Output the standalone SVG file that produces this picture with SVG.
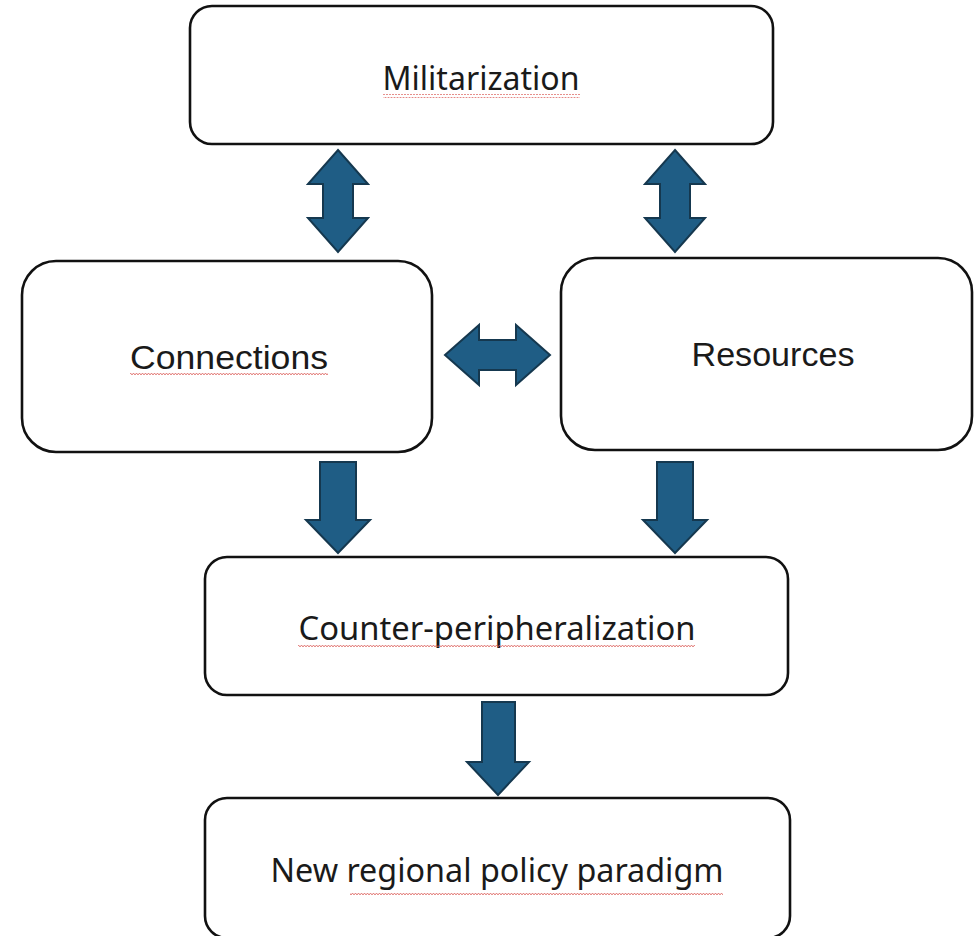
<svg xmlns="http://www.w3.org/2000/svg" width="974" height="936" viewBox="0 0 974 936">
<style>
.box{fill:#fff;stroke:#111;stroke-width:2.6}
.arr{fill:#1f5d85;stroke:#15384f;stroke-width:2;stroke-linejoin:miter}
.t{font-family:"Noto Sans","Liberation Sans",sans-serif;font-size:33px;fill:#1a1a1a;text-anchor:middle}
.h{font-family:"Liberation Sans",Arial,sans-serif;font-size:34px;fill:#1a1a1a;text-anchor:middle}
.sq{fill:url(#wave)}
</style>
<defs>
<pattern id="wave" width="6" height="4" patternUnits="userSpaceOnUse">
<path d="M0 3 L1.5 1 L3 3 L4.5 1 L6 3" fill="none" stroke="#d9534f" stroke-width="0.9" opacity="0.8"/>
</pattern>
</defs>
<rect width="974" height="936" fill="#fff"/>
<g id="connectors">
<path class="arr" d="M338 150 L368 184 L353 184 L353 218 L368 218 L338 252 L308 218 L323 218 L323 184 L308 184 Z"/>
<path class="arr" d="M675 150 L705 184 L690 184 L690 218 L705 218 L675 252 L645 218 L660 218 L660 184 L645 184 Z"/>
<path class="arr" d="M445 355 L479 325 L479 340 L516 340 L516 325 L550 355 L516 385 L516 370 L479 370 L479 385 Z"/>
<path class="arr" d="M320 462 L356 462 L356 520 L370 520 L338 553 L306 520 L320 520 Z"/>
<path class="arr" d="M657 462 L693 462 L693 520 L707 520 L675 553 L643 520 L657 520 Z"/>
<path class="arr" d="M482 702 L515 702 L515 762 L529 762 L498 795 L467 762 L482 762 Z"/>
</g>
<g id="militarization">
<rect class="box" x="190" y="6" width="583" height="138" rx="22"/>
<text class="t" x="481" y="90" textLength="197" lengthAdjust="spacingAndGlyphs">Militarization</text>
<rect class="sq" x="383" y="94" width="197" height="4"/>
</g>
<g id="connections">
<rect class="box" x="22" y="261" width="410" height="191" rx="34"/>
<text class="h" x="229" y="369" textLength="198" lengthAdjust="spacingAndGlyphs">Connections</text>
<rect class="sq" x="130" y="372" width="198" height="4"/>
</g>
<g id="resources">
<rect class="box" x="561" y="258" width="411" height="192" rx="34"/>
<text class="h" x="773" y="366" textLength="163" lengthAdjust="spacingAndGlyphs">Resources</text>
</g>
<g id="counter-peripheralization">
<rect class="box" x="205" y="557" width="583" height="138" rx="22"/>
<text class="t" x="497" y="640" textLength="397" lengthAdjust="spacingAndGlyphs">Counter-peripheralization</text>
<rect class="sq" x="298" y="645" width="397" height="4"/>
</g>
<g id="new-regional-policy-paradigm">
<rect class="box" x="205" y="798" width="585" height="140" rx="22"/>
<text class="t" x="497" y="882" textLength="453" lengthAdjust="spacingAndGlyphs">New regional policy paradigm</text>
<rect class="sq" x="350" y="891" width="373" height="4"/>
</g>
</svg>
